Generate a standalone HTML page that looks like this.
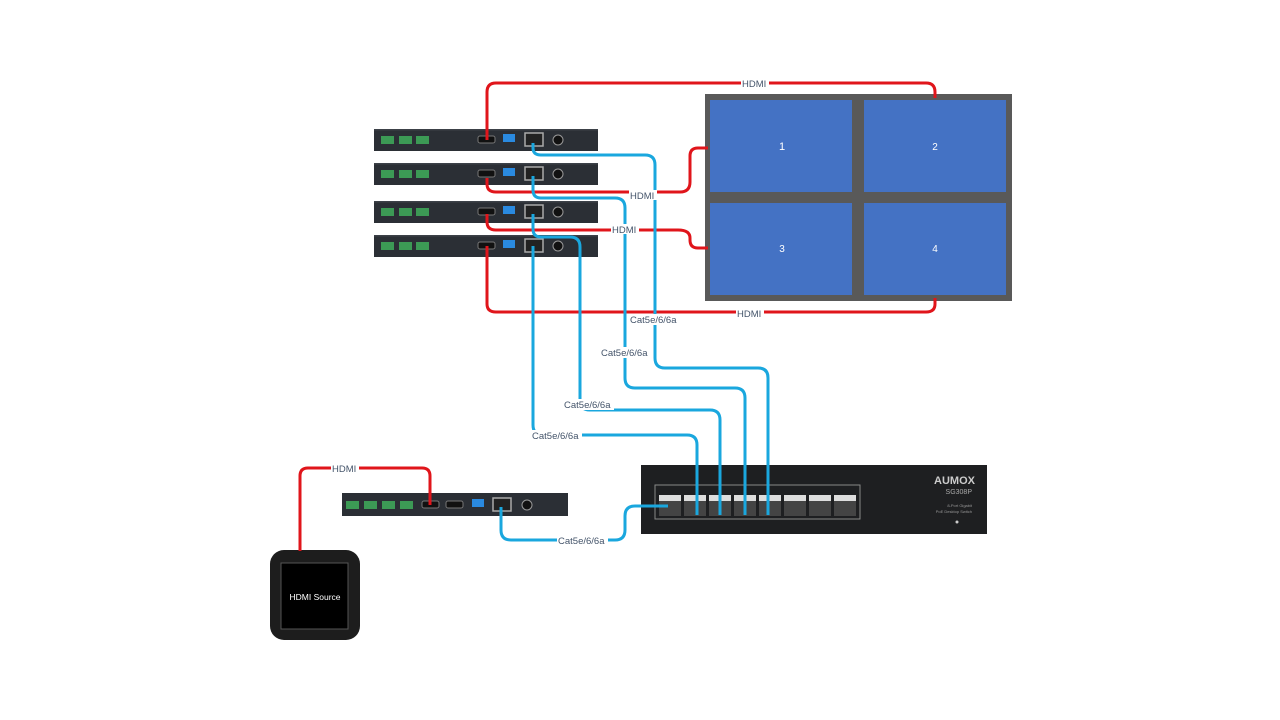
<!DOCTYPE html>
<html><head><meta charset="utf-8"><style>
html,body{margin:0;padding:0;background:#fff;}
svg{display:block;font-family:"Liberation Sans",sans-serif;}
</style></head><body>
<svg width="1280" height="720" viewBox="0 0 1280 720" xmlns="http://www.w3.org/2000/svg">
<defs>
<g id="rx">
 <rect x="0" y="0" width="224" height="22" fill="#2b2f35"/>
 <rect x="0" y="0" width="224" height="1.5" fill="#3c4148"/>
 <rect x="7" y="7" width="13" height="8" fill="#3c9a55"/>
 <rect x="25" y="7" width="13" height="8" fill="#3c9a55"/>
 <rect x="42" y="7" width="13" height="8" fill="#3c9a55"/>
 <rect x="104" y="7" width="17" height="7" rx="2" fill="#111" stroke="#777" stroke-width="1"/>
 <rect x="129" y="5" width="12" height="8" fill="#2a8ae0"/>
 <rect x="151" y="4" width="18" height="13" fill="#222" stroke="#aaa" stroke-width="1.5"/>
 <circle cx="184" cy="11" r="5" fill="#111" stroke="#999" stroke-width="1"/>
</g>
</defs>

<!-- video wall -->
<rect x="705" y="94" width="307" height="207" fill="#595959"/>
<rect x="710" y="100" width="142" height="92" fill="#4472c4"/>
<rect x="864" y="100" width="142" height="92" fill="#4472c4"/>
<rect x="710" y="203" width="142" height="92" fill="#4472c4"/>
<rect x="864" y="203" width="142" height="92" fill="#4472c4"/>
<text x="782" y="150" fill="#fff" font-size="11" text-anchor="middle">1</text>
<text x="935" y="150" fill="#fff" font-size="10" text-anchor="middle">2</text>
<text x="782" y="252" fill="#fff" font-size="10" text-anchor="middle">3</text>
<text x="935" y="252" fill="#fff" font-size="10" text-anchor="middle">4</text>

<!-- switch -->
<rect x="641" y="465" width="346" height="69" fill="#1e1f21"/>
<rect x="655" y="485" width="205" height="34" fill="none" stroke="#888" stroke-width="1"/>
<g fill="#ddd">
 <rect x="659" y="495" width="22" height="6"/><rect x="684" y="495" width="22" height="6"/><rect x="709" y="495" width="22" height="6"/><rect x="734" y="495" width="22" height="6"/>
 <rect x="759" y="495" width="22" height="6"/><rect x="784" y="495" width="22" height="6"/><rect x="809" y="495" width="22" height="6"/><rect x="834" y="495" width="22" height="6"/>
</g>
<g fill="#444">
 <rect x="659" y="501" width="22" height="15"/><rect x="684" y="501" width="22" height="15"/><rect x="709" y="501" width="22" height="15"/><rect x="734" y="501" width="22" height="15"/>
 <rect x="759" y="501" width="22" height="15"/><rect x="784" y="501" width="22" height="15"/><rect x="809" y="501" width="22" height="15"/><rect x="834" y="501" width="22" height="15"/>
</g>
<text x="975" y="484" fill="#ccc" font-size="11" font-weight="bold" text-anchor="end">AUMOX</text>
<text x="972" y="494" fill="#aaa" font-size="7" text-anchor="end">SG308P</text>
<text x="972" y="507" fill="#999" font-size="4" text-anchor="end">8-Port Gigabit</text>
<text x="972" y="513" fill="#999" font-size="4" text-anchor="end">PoE Desktop Switch</text>
<circle cx="957" cy="522" r="1.5" fill="#ccc"/>

<!-- HDMI source -->
<rect x="270" y="550" width="90" height="90" rx="14" fill="#1d1d1d"/>
<rect x="281" y="563" width="67" height="66" fill="#000" stroke="#555" stroke-width="1"/>
<text x="315" y="600" fill="#fff" font-size="8.5" text-anchor="middle">HDMI Source</text>

<!-- receivers -->
<use href="#rx" x="374" y="129"/>
<use href="#rx" x="374" y="163"/>
<use href="#rx" x="374" y="201"/>
<use href="#rx" x="374" y="235"/>
<g transform="translate(342,493)">
 <rect x="0" y="0" width="226" height="23" fill="#2b2f35"/>
 <rect x="4" y="8" width="13" height="8" fill="#3c9a55"/>
 <rect x="22" y="8" width="13" height="8" fill="#3c9a55"/>
 <rect x="40" y="8" width="13" height="8" fill="#3c9a55"/>
 <rect x="58" y="8" width="13" height="8" fill="#3c9a55"/>
 <rect x="80" y="8" width="17" height="7" rx="2" fill="#111" stroke="#777"/>
 <rect x="104" y="8" width="17" height="7" rx="2" fill="#111" stroke="#777"/>
 <rect x="130" y="6" width="12" height="8" fill="#2a8ae0"/>
 <rect x="151" y="5" width="18" height="13" fill="#222" stroke="#aaa" stroke-width="1.5"/>
 <circle cx="185" cy="12" r="5" fill="#111" stroke="#999"/>
</g>

<!-- red HDMI cables -->
<g fill="none" stroke="#e0151b" stroke-width="3" stroke-linejoin="round">
 <path d="M487 140 V92 Q487 83 496 83 H926 Q935 83 935 92 V98"/>
 <path d="M487 178 V184 Q487 192 496 192 H680 Q690 192 690 182 V156 Q690 148 698 148 H708"/>
 <path d="M487 214 V222 Q487 230 496 230 H678 Q690 230 690 238 V240 Q690 248 698 248 H708"/>
 <path d="M487 246 V304 Q487 312 496 312 H926 Q935 312 935 304 V298"/>
 <path d="M430 505 V476 Q430 468 422 468 H308 Q300 468 300 476 V551"/>
</g>
<!-- blue cat cables -->
<g fill="none" stroke="#1aa7de" stroke-width="3" stroke-linejoin="round">
 <path d="M533 143 V148 Q533 155 541 155 H645 Q655 155 655 165 V358 Q655 368 665 368 H758 Q768 368 768 378 V515"/>
 <path d="M533 176 V190 Q533 198 541 198 H615 Q625 198 625 208 V378 Q625 388 635 388 H735 Q745 388 745 398 V515"/>
 <path d="M533 214 V229 Q533 237 541 237 H570 Q580 237 580 247 V400 Q580 410 590 410 H710 Q720 410 720 420 V515"/>
 <path d="M533 246 V425 Q533 435 543 435 H687 Q697 435 697 445 V515"/>
 <path d="M501 507 V530 Q501 540 511 540 H615 Q625 540 625 530 V516 Q625 506 635 506 H668"/>
</g>

<!-- labels -->
<g font-size="9.5" fill="#44546a">
 <rect x="741" y="78" width="28" height="10" fill="#fff"/><text x="742" y="87">HDMI</text>
 <rect x="629" y="190" width="28" height="10" fill="#fff"/><text x="630" y="199">HDMI</text>
 <rect x="611" y="224" width="28" height="10" fill="#fff"/><text x="612" y="233">HDMI</text>
 <rect x="736" y="308" width="28" height="10" fill="#fff"/><text x="737" y="317">HDMI</text>
 <rect x="331" y="463" width="28" height="10" fill="#fff"/><text x="332" y="472">HDMI</text>
 <rect x="629" y="314" width="51" height="11" fill="#fff"/><text x="630" y="323">Cat5e/6/6a</text>
 <rect x="600" y="347" width="51" height="11" fill="#fff"/><text x="601" y="356">Cat5e/6/6a</text>
 <rect x="563" y="399" width="51" height="11" fill="#fff"/><text x="564" y="408">Cat5e/6/6a</text>
 <rect x="531" y="430" width="51" height="11" fill="#fff"/><text x="532" y="439">Cat5e/6/6a</text>
 <rect x="557" y="535" width="51" height="11" fill="#fff"/><text x="558" y="544">Cat5e/6/6a</text>
</g>
</svg>
</body></html>
